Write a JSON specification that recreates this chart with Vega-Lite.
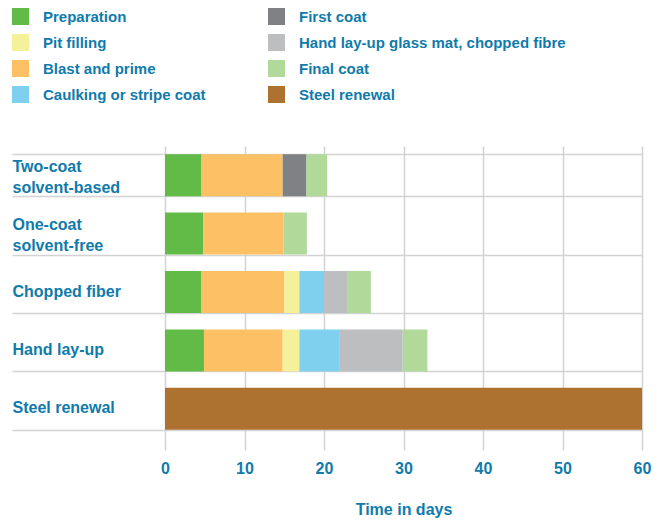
{
  "$schema": "https://vega.github.io/schema/vega-lite/v6.json",
  "autosize": {"type": "none"},
  "padding": {"left": 165, "top": 146, "right": 27, "bottom": 82},
  "width": 477,
  "height": 292,
  "config": {
    "view": {"stroke": null},
    "font": "Liberation Sans"
  },
  "data": {
    "values": [
      {"method": "Two-coat solvent-based", "task": "Preparation", "o": 1, "days": 4.6},
      {"method": "Two-coat solvent-based", "task": "Blast and prime", "o": 2, "days": 10.2},
      {"method": "Two-coat solvent-based", "task": "First coat", "o": 5, "days": 3.0},
      {"method": "Two-coat solvent-based", "task": "Final coat", "o": 7, "days": 2.6},
      {"method": "One-coat solvent-free", "task": "Preparation", "o": 1, "days": 4.8},
      {"method": "One-coat solvent-free", "task": "Blast and prime", "o": 2, "days": 10.1},
      {"method": "One-coat solvent-free", "task": "Final coat", "o": 7, "days": 2.95},
      {"method": "Chopped fiber", "task": "Preparation", "o": 1, "days": 4.6},
      {"method": "Chopped fiber", "task": "Blast and prime", "o": 2, "days": 10.4},
      {"method": "Chopped fiber", "task": "Pit filling", "o": 3, "days": 1.9},
      {"method": "Chopped fiber", "task": "Caulking or stripe coat", "o": 4, "days": 3.1},
      {"method": "Chopped fiber", "task": "Hand lay-up glass mat, chopped fibre", "o": 6, "days": 2.9},
      {"method": "Chopped fiber", "task": "Final coat", "o": 7, "days": 3.0},
      {"method": "Hand lay-up", "task": "Preparation", "o": 1, "days": 4.9},
      {"method": "Hand lay-up", "task": "Blast and prime", "o": 2, "days": 9.9},
      {"method": "Hand lay-up", "task": "Pit filling", "o": 3, "days": 2.1},
      {"method": "Hand lay-up", "task": "Caulking or stripe coat", "o": 4, "days": 5.0},
      {"method": "Hand lay-up", "task": "Hand lay-up glass mat, chopped fibre", "o": 6, "days": 8.0},
      {"method": "Hand lay-up", "task": "Final coat", "o": 7, "days": 3.1},
      {"method": "Steel renewal", "task": "Steel renewal", "o": 8, "days": 60}
    ]
  },
  "mark": {"type": "bar"},
  "encoding": {
    "y": {
      "field": "method",
      "type": "nominal",
      "sort": ["Two-coat solvent-based", "One-coat solvent-free", "Chopped fiber", "Hand lay-up", "Steel renewal"],
      "scale": {"paddingInner": 0.28, "paddingOuter": 0.14},
      "axis": {
        "title": null,
        "domain": false,
        "tickBand": "extent",
        "tickSize": 153,
        "tickColor": "#d3d3d3",
        "tickWidth": 1.5,
        "grid": true,
        "gridColor": "#d3d3d3",
        "gridWidth": 1.5,
        "labelAlign": "left",
        "labelPadding": 0,
        "labelFontSize": 16,
        "labelFontWeight": "bold",
        "labelColor": "#0f7bab",
        "labelLineHeight": 21,
        "labelLimit": 200,
        "labelOffset": {"condition": {"test": "indexof(datum.label, 'solvent') >= 0", "value": -9}, "value": -1},
        "labelExpr": "datum.label == 'Two-coat solvent-based' ? ['Two-coat', 'solvent-based'] : datum.label == 'One-coat solvent-free' ? ['One-coat', 'solvent-free'] : datum.label"
      }
    },
    "x": {
      "field": "days",
      "type": "quantitative",
      "stack": "zero",
      "scale": {"domain": [0, 60], "nice": false},
      "axis": {
        "title": "Time in days",
        "values": [0, 10, 20, 30, 40, 50, 60],
        "domain": false,
        "grid": true,
        "gridColor": "#d3d3d3",
        "gridWidth": 1.5,
        "tickSize": 12,
        "tickColor": "#d3d3d3",
        "tickWidth": 1.5,
        "labelFlush": false,
        "labelPadding": 10,
        "labelFontSize": 16,
        "labelFontWeight": "bold",
        "labelColor": "#0f7bab",
        "titleFontSize": 16,
        "titleFontWeight": "bold",
        "titleColor": "#0f7bab",
        "titlePadding": 25
      }
    },
    "order": {"field": "o", "type": "quantitative"},
    "color": {
      "field": "task",
      "type": "nominal",
      "scale": {
        "domain": ["Preparation", "Pit filling", "Blast and prime", "Caulking or stripe coat", "First coat", "Hand lay-up glass mat, chopped fibre", "Final coat", "Steel renewal"],
        "range": ["#62bb46", "#f5f09a", "#fdc064", "#7fd0ef", "#808184", "#bdbec0", "#b1d99a", "#ad7230"]
      },
      "legend": {
        "title": null,
        "orient": "none",
        "legendX": -153,
        "legendY": -138,
        "columns": 2,
        "columnPadding": 62,
        "rowPadding": 9,
        "padding": 0,
        "symbolType": "square",
        "symbolSize": 289,
        "symbolStrokeWidth": 0,
        "symbolOpacity": 1,
        "labelOffset": 14,
        "labelFontSize": 15,
        "labelFontWeight": "bold",
        "labelColor": "#0f7bab",
        "labelLimit": 400
      }
    }
  }
}
